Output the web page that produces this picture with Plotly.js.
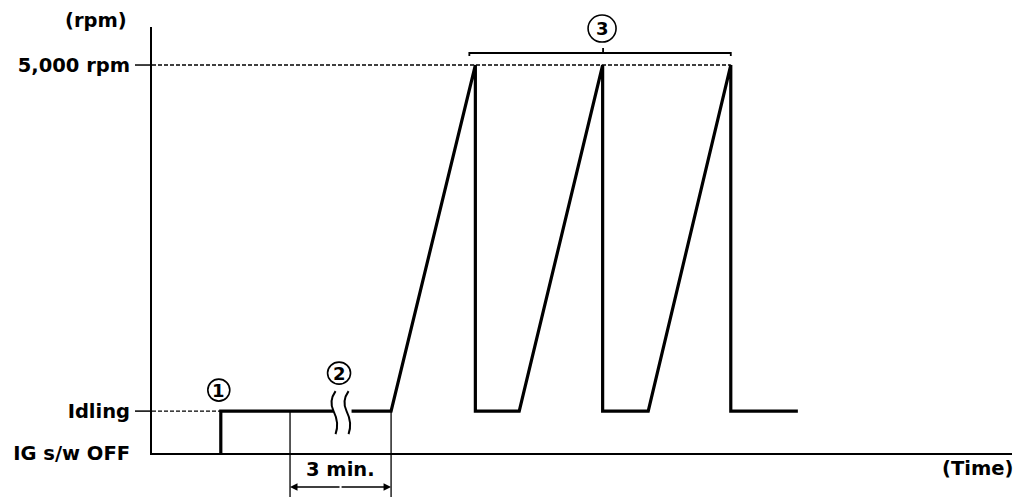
<!DOCTYPE html>
<html>
<head>
<meta charset="utf-8">
<script src="https://cdn.plot.ly/plotly-3.0.1.min.js"></script>
<style>html,body{margin:0;padding:0;background:#fff;}#chart{width:1024px;height:504px;}</style>
</head>
<body>
<div id="chart"></div>
<script>
// ---- data (time in arbitrary units, speed in rpm) ----
const timeVals = [8.0, 8.0, 27.8, 37.6, 37.6, 42.7, 52.4, 52.4, 57.7, 67.3, 67.3, 75.1];
const rpmVals  = [0,   540, 540,  5000, 540,  540,  5000, 540,  540,  5000, 540,  540];
const tickVals = [0, 540, 5000];
const tickText = ['IG s/w OFF', 'Idling', '5,000 rpm'];
const idleRpm = 540;
const maxRpm = 5000;
const threeMinStart = 16.05;
const threeMinEnd = 27.8;
const peakTimes = [37.6, 52.4, 67.3];
const stepTime = 8.0;
const stepLabels = ['1', '2', '3'];

const X_MAX = 100, Y_MAX = 5490;
const px = v => v / X_MAX;      // data -> paper (x)
const py = v => v / Y_MAX;      // data -> paper (y)
const PLOT_H = 426, PLOT_W = 860;
const pyPix = p => p / PLOT_H;  // pixel offset -> paper
const pxPix = p => p / PLOT_W;

const black = '#000';
const font = {family: 'DejaVu Sans, Arial, sans-serif', size: 19.5, color: black, weight: 'bold'};

const trace = {
  x: timeVals, y: rpmVals, type: 'scatter', mode: 'lines',
  line: {color: black, width: 3.2}, hoverinfo: 'skip', cliponaxis: false
};

const midThree = (threeMinStart + threeMinEnd) / 2;
const bracketL = peakTimes[0] - 0.7, bracketR = peakTimes[2];
const bracketMid = (peakTimes[0] + peakTimes[2]) / 2;

const shapes = [
  // dashed reference lines
  {type: 'line', xref: 'paper', yref: 'paper', x0: 0, x1: px(peakTimes[2]), y0: py(maxRpm), y1: py(maxRpm),
   line: {color: black, width: 1.4, dash: '4px,2px'}},
  {type: 'line', xref: 'paper', yref: 'paper', x0: 0, x1: px(stepTime), y0: py(idleRpm), y1: py(idleRpm),
   line: {color: black, width: 1.4, dash: '4px,2px'}},
  // axis tick marks
  {type: 'line', xref: 'paper', yref: 'paper', x0: -pxPix(17), x1: 0, y0: py(maxRpm), y1: py(maxRpm),
   line: {color: black, width: 1.5}},
  {type: 'line', xref: 'paper', yref: 'paper', x0: -pxPix(17), x1: 0, y0: py(idleRpm), y1: py(idleRpm),
   line: {color: black, width: 1.5}},
  // 3 min extension lines
  {type: 'line', xref: 'paper', yref: 'paper', x0: px(threeMinStart), x1: px(threeMinStart), y0: py(idleRpm), y1: -pyPix(44),
   line: {color: black, width: 1.3}},
  {type: 'line', xref: 'paper', yref: 'paper', x0: px(threeMinEnd), x1: px(threeMinEnd), y0: py(idleRpm), y1: -pyPix(44),
   line: {color: black, width: 1.3}},
  // break in the idle line
  {type: 'rect', xref: 'paper', yref: 'paper', xsizemode: 'pixel', ysizemode: 'pixel',
   xanchor: px(midThree), yanchor: py(idleRpm), x0: -7, x1: 11, y0: -3, y1: 3,
   line: {width: 0}, fillcolor: '#fff'},
  // squiggles
  {type: 'path', xref: 'paper', yref: 'paper', xsizemode: 'pixel', ysizemode: 'pixel',
   xanchor: px(midThree), yanchor: py(idleRpm),
   path: 'M -5,20 Q -12,10 -7,0 Q -1,-12 -5,-23', line: {color: black, width: 2}},
  {type: 'path', xref: 'paper', yref: 'paper', xsizemode: 'pixel', ysizemode: 'pixel',
   xanchor: px(midThree), yanchor: py(idleRpm),
   path: 'M 8,20 Q 1,10 6,0 Q 12,-12 8,-23', line: {color: black, width: 2}},
  // bracket over the three peaks
  {type: 'path', xref: 'paper', yref: 'paper', ysizemode: 'pixel', yanchor: py(maxRpm),
   path: 'M ' + px(bracketL) + ',9 L ' + px(bracketL) + ',12 L ' + px(bracketR) + ',12 L ' + px(bracketR) + ',9',
   line: {color: black, width: 1.8}},
  {type: 'line', xref: 'paper', yref: 'paper', ysizemode: 'pixel', yanchor: py(maxRpm),
   x0: px(bracketMid), x1: px(bracketMid), y0: 12, y1: 17, line: {color: black, width: 1.8}},
  // circles
  {type: 'circle', xref: 'paper', yref: 'paper', xsizemode: 'pixel', ysizemode: 'pixel',
   xanchor: px(stepTime), yanchor: py(idleRpm), x0: -13, x1: 9, y0: 10, y1: 32,
   line: {color: black, width: 1.6}},
  {type: 'circle', xref: 'paper', yref: 'paper', xsizemode: 'pixel', ysizemode: 'pixel',
   xanchor: px(midThree), yanchor: py(idleRpm), x0: -13, x1: 10, y0: 27, y1: 49,
   line: {color: black, width: 1.6}},
  {type: 'circle', xref: 'paper', yref: 'paper', xsizemode: 'pixel', ysizemode: 'pixel',
   xanchor: px(bracketMid), yanchor: py(maxRpm), x0: -15, x1: 13, y0: 23, y1: 50,
   line: {color: black, width: 1.6}}
];

const numFont = {family: 'DejaVu Sans, Arial, sans-serif', size: 18, color: black, weight: 'bold'};
const annotations = [
  {xref: 'paper', yref: 'paper', x: -pxPix(56), y: 1, yshift: 7, text: '(rpm)', showarrow: false,
   xanchor: 'center', yanchor: 'middle', font: font},
  {xref: 'paper', yref: 'paper', x: 1, xshift: 3, y: -pyPix(15), text: '(Time)', showarrow: false,
   xanchor: 'right', yanchor: 'middle', font: font},
  {xref: 'paper', yref: 'paper', x: px(midThree), y: -pyPix(16), text: '3 min.', showarrow: false,
   xanchor: 'center', yanchor: 'middle', font: font},
  // dimension arrows
  {xref: 'paper', yref: 'paper', x: px(threeMinStart), y: -pyPix(34), text: '', showarrow: true,
   ax: 51, ay: 0, arrowhead: 2, arrowsize: 1, arrowwidth: 1.5, arrowcolor: black, standoff: 0},
  {xref: 'paper', yref: 'paper', x: px(threeMinEnd), y: -pyPix(34), text: '', showarrow: true,
   ax: -51, ay: 0, arrowhead: 2, arrowsize: 1, arrowwidth: 1.5, arrowcolor: black, standoff: 0},
  // circled numbers
  {xref: 'paper', yref: 'paper', x: px(stepTime), y: py(idleRpm), xshift: -2, yshift: 21, text: stepLabels[0],
   xanchor: 'center', yanchor: 'middle', showarrow: false, font: numFont},
  {xref: 'paper', yref: 'paper', x: px(midThree), y: py(idleRpm), xshift: -1.5, yshift: 38, text: stepLabels[1],
   xanchor: 'center', yanchor: 'middle', showarrow: false, font: numFont},
  {xref: 'paper', yref: 'paper', x: px(bracketMid), y: py(maxRpm), xshift: -1, yshift: 36.5, text: stepLabels[2],
   xanchor: 'center', yanchor: 'middle', showarrow: false, font: numFont}
];

const layout = {
  width: 1024, height: 504,
  margin: {l: 152, r: 12, t: 27, b: 51},
  paper_bgcolor: '#fff', plot_bgcolor: '#fff',
  showlegend: false,
  xaxis: {range: [0, X_MAX], showline: true, linewidth: 2, linecolor: black, showgrid: false,
          zeroline: false, showticklabels: false, ticks: '', fixedrange: true},
  yaxis: {range: [0, Y_MAX], showline: true, linewidth: 2, linecolor: black, showgrid: false,
          zeroline: false, ticks: '', tickvals: tickVals, ticktext: tickText, tickfont: font,
          ticklabelstandoff: 16, fixedrange: true},
  shapes: shapes,
  annotations: annotations
};

Plotly.newPlot('chart', [trace], layout, {displayModeBar: false, staticPlot: true});
</script>
</body>
</html>
